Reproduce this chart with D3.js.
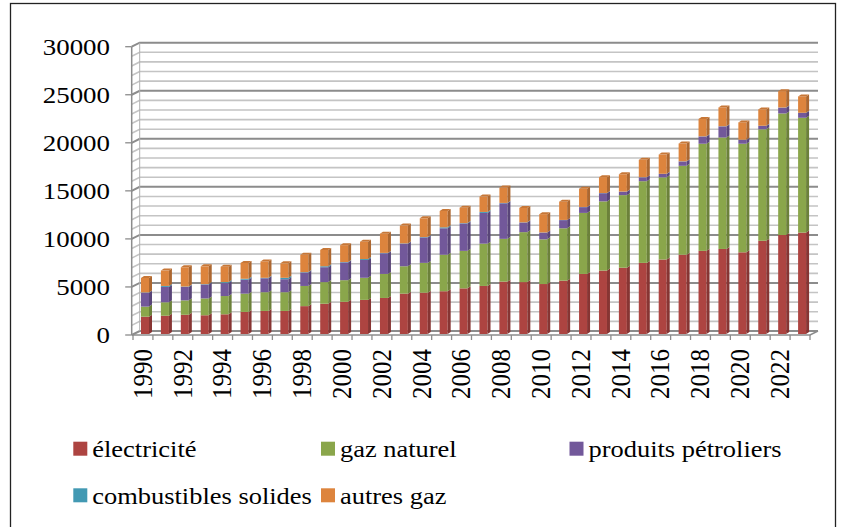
<!DOCTYPE html>
<html>
<head>
<meta charset="utf-8">
<script src="https://cdn.jsdelivr.net/npm/d3@7"></script>
<style>
  body { margin: 0; background: #fff; }
  svg { display: block; }
  svg text { font-family: "Times New Roman", "Liberation Serif", Tinos, Times, serif; }
</style>
</head>
<body>
<svg width="851" height="527"></svg>
<script>
(function(){
  'use strict';

  var years = [1990, 1991, 1992, 1993, 1994, 1995, 1996, 1997, 1998, 1999,
    2000, 2001, 2002, 2003, 2004, 2005, 2006, 2007, 2008, 2009,
    2010, 2011, 2012, 2013, 2014, 2015, 2016, 2017, 2018, 2019,
    2020, 2021, 2022, 2023];

  var electricite = [1800, 1900, 2000, 1950, 2050, 2300, 2400, 2400, 2900, 3150,
    3350, 3550, 3750, 4200, 4300, 4450, 4750, 5000, 5450, 5400,
    5200, 5550, 6250, 6600, 6900, 7400, 7750, 8250, 8650, 8850,
    8500, 9700, 10300, 10550];

  var gazNaturel = [1050, 1400, 1500, 1750, 1900, 1900, 1950, 1950, 2100, 2250,
    2250, 2300, 2500, 2850, 3100, 3800, 3900, 4400, 4450, 5200,
    4650, 5450, 6350, 7200, 7550, 8500, 8550, 9250, 11150, 11600,
    11300, 11600, 12650, 11950];

  var produitsPetroliers = [1450, 1600, 1400, 1450, 1350, 1450, 1450, 1350, 1400, 1550,
    1850, 1850, 2150, 2350, 2650, 2750, 2850, 3200, 3700, 1000,
    700, 850, 600, 850, 350, 400, 350, 450, 750, 1150,
    400, 350, 600, 500];

  var combustiblesSolides = [30, 100, 40, 40, 100, 100, 50, 150, 40, 100,
    40, 100, 40, 30, 40, 100, 40, 100, 40, 20,
    20, 20, 20, 20, 20, 20, 20, 20, 20, 20,
    20, 20, 20, 20];

  var autresGaz = [1500, 1600, 2000, 1850, 1600, 1650, 1700, 1500, 1800, 1700,
    1750, 1800, 2000, 1850, 1950, 1700, 1600, 1600, 1600, 1500,
    1900, 1900, 1900, 1650, 1800, 1800, 2000, 1850, 1800, 1950,
    1800, 1700, 1700, 1700];

  var seriesNames = ['électricité', 'gaz naturel', 'produits pétroliers', 'combustibles solides', 'autres gaz'];
  var seriesColors = ['#ad4441', '#8aa64b', '#72589a', '#4299b3', '#dd843d'];
  var yTicks = [0, 5000, 10000, 15000, 20000, 25000, 30000];

  var seriesValues = [electricite, gazNaturel, produitsPetroliers, combustiblesSolides, autresGaz];

  var axisX = 131.7;
  var depth = { x: 8, y: 4 };     // back wall offset
  var barDepth = { x: 3, y: 2 };  // bar thickness

  var svg = d3.select('svg');

  // frame
  svg.append('rect')
    .attr('x', 10.5).attr('y', 3.5)
    .attr('width', 825).attr('height', 540)
    .attr('fill', 'none')
    .attr('stroke', '#222')
    .attr('stroke-width', 1.3);

  var xScale = d3.scaleBand()
    .domain(years)
    .range([133, 810]);

  var yScale = d3.scaleLinear()
    .domain([0, 30000])
    .range([335, 46.7]);

  var bw = xScale.bandwidth();
  var backRight = xScale.range()[1] + depth.x;

  // gridlines on the back wall, with the slanted piece on the side wall
  var gridVals = d3.range(0, 30001, 1000);
  var grid = svg.append('g').attr('class', 'grid');
  grid.selectAll('path')
    .data(gridVals)
    .enter()
    .append('path')
    .attr('d', function(d) {
      var y = yScale(d);
      return 'M' + [axisX, y] + 'L' + [axisX + depth.x, y - depth.y] + 'L' + [backRight, y - depth.y];
    })
    .attr('fill', 'none')
    .attr('stroke', function(d) { return d % 5000 === 0 ? '#8c8c8c' : '#c4c4c4'; })
    .attr('stroke-width', function(d) { return d % 5000 === 0 ? 2 : 1.6; });

  // back wall left edge
  svg.append('line')
    .attr('x1', axisX + depth.x).attr('y1', yScale(0) - depth.y)
    .attr('x2', axisX + depth.x).attr('y2', yScale(30000) - depth.y)
    .attr('stroke', '#b0b0b0').attr('stroke-width', 1);

  // stacked data
  var table = years.map(function(yr, i) {
    var row = { year: yr };
    seriesNames.forEach(function(name, k) { row[name] = seriesValues[k][i]; });
    return row;
  });

  var stacked = d3.stack().keys(seriesNames)(table);

  var bars = svg.append('g').attr('class', 'bars');

  stacked.forEach(function(layer, k) {
    var base = d3.color(seriesColors[k]);
    var g = bars.append('g');
    var seg = g.selectAll('g')
      .data(layer)
      .enter()
      .append('g');

    function bx(d) { return xScale(d.data.year) + 8; }
    function y0(d) { return yScale(d[0]) - 1; }
    function y1(d) { return yScale(d[1]) - 1; }

    seg.append('rect')
      .attr('x', bx)
      .attr('y', y1)
      .attr('width', 8)
      .attr('height', function(d) { return Math.max(0, y0(d) - y1(d)); })
      .attr('fill', base.formatHex());

    seg.append('path')
      .attr('d', function(d) {
        var x = bx(d) + 8;
        return 'M' + [x, y1(d)] + 'L' + [x + barDepth.x, y1(d) - barDepth.y] +
          'L' + [x + barDepth.x, y0(d) - barDepth.y] + 'L' + [x, y0(d)] + 'Z';
      })
      .attr('fill', base.darker(0.7).formatHex());

    if (k === seriesNames.length - 1) {
      seg.append('path')
        .attr('d', function(d) {
          var x = bx(d);
          var y = y1(d);
          return 'M' + [x, y] + 'L' + [x + barDepth.x, y - barDepth.y] +
            'L' + [x + 8 + barDepth.x, y - barDepth.y] + 'L' + [x + 8, y] + 'Z';
        })
        .attr('fill', base.darker(0.3).formatHex());
    }
  });

  // floor edge / x axis
  svg.append('path')
    .attr('d', 'M' + [axisX, yScale(0)] + 'L' + [xScale.range()[1], yScale(0)] +
      'L' + [backRight, yScale(0) - depth.y])
    .attr('fill', 'none')
    .attr('stroke', '#8c8c8c')
    .attr('stroke-width', 1.5);

  var xTickPos = years.map(function(yr) { return xScale(yr); }).concat([xScale.range()[1]]);
  svg.append('g')
    .selectAll('line')
    .data(xTickPos)
    .enter()
    .append('line')
    .attr('x1', function(d) { return d; })
    .attr('x2', function(d) { return d; })
    .attr('y1', yScale(0))
    .attr('y2', yScale(0) + 5)
    .attr('stroke', '#8c8c8c')
    .attr('stroke-width', 1.3);

  // y axis
  svg.append('line')
    .attr('x1', axisX).attr('x2', axisX)
    .attr('y1', yScale(0)).attr('y2', yScale(30000))
    .attr('stroke', '#8c8c8c')
    .attr('stroke-width', 1.5);

  svg.append('g')
    .selectAll('line')
    .data(yTicks)
    .enter()
    .append('line')
    .attr('x1', axisX - 6.5).attr('x2', axisX)
    .attr('y1', function(d) { return yScale(d); })
    .attr('y2', function(d) { return yScale(d); })
    .attr('stroke', '#8c8c8c')
    .attr('stroke-width', 1.3);

  svg.append('g')
    .selectAll('text')
    .data(yTicks)
    .enter()
    .append('text')
    .attr('transform', function(d) {
      return 'translate(' + [110, yScale(d) + 0.5] + ') scale(1.17,1)';
    })
    .attr('text-anchor', 'end')
    .attr('dy', '0.33em')
    .attr('font-size', 23)
    .attr('fill', '#000')
    .text(function(d) { return d; });

  // x labels, every second year
  svg.append('g')
    .selectAll('text')
    .data(years.filter(function(yr, i) { return i % 2 === 0; }))
    .enter()
    .append('text')
    .attr('transform', function(d) {
      return 'translate(' + [xScale(d) + bw / 2, 349] + ') scale(1.07,1) rotate(-90)';
    })
    .attr('text-anchor', 'end')
    .attr('dy', '0.33em')
    .attr('font-size', 25)
    .attr('fill', '#000')
    .text(function(d) { return d; });

  // legend
  var legendPos = [[73.3, 441.7], [321, 441.7], [569.5, 441.7], [73.3, 488.3], [321, 488.3]];
  var legend = svg.append('g')
    .selectAll('g')
    .data(seriesNames)
    .enter()
    .append('g')
    .attr('transform', function(d, i) { return 'translate(' + legendPos[i] + ')'; });

  legend.append('rect')
    .attr('width', 14)
    .attr('height', 14)
    .attr('fill', function(d, i) { return seriesColors[i]; });

  legend.append('text')
    .attr('transform', 'translate(19,15.6) scale(1.15,1)')
    .attr('font-size', 23)
    .attr('fill', '#000')
    .text(function(d) { return d; });
})();
</script>
</body>
</html>
